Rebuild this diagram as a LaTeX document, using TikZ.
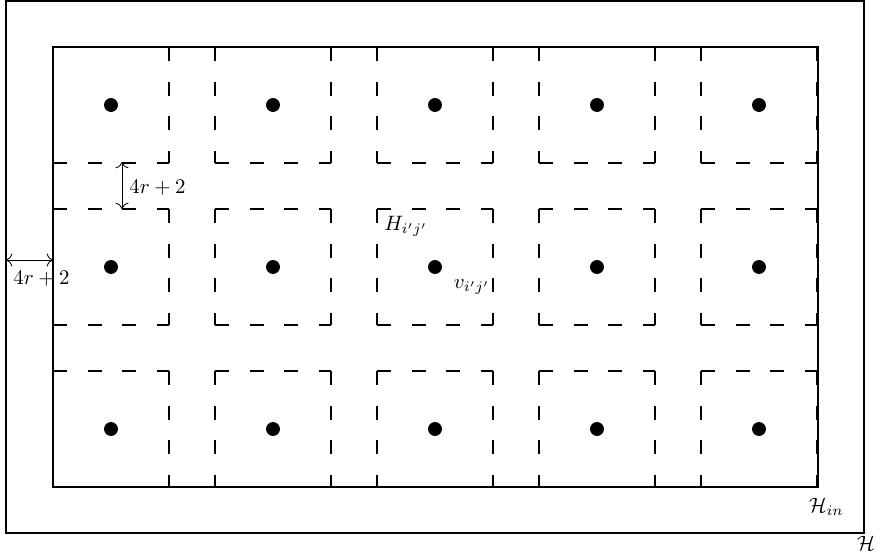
\documentclass[tikz,border=0pt]{standalone}
\usepackage{amsmath}
\usepackage{amssymb}
\usepackage{tikz}
\usetikzlibrary{arrows.meta,positioning,calc}

\begin{document}
\begin{tikzpicture}[
    x=0.48pt, y=-0.48pt,
    border/.style={draw=black, line width=0.95pt},
    cell/.style={draw=black, line width=1.15pt, dash pattern=on 6.7pt off 9.95pt},
    vertex/.style={circle, fill=black, inner sep=0pt, minimum size=6.7pt},
    dim/.style={{To[length=3pt]}-{To[length=3pt]}, line width=0.4pt}
]
    \useasboundingbox (0,0) rectangle (878,560);

    % outer graph and inner part
    \coordinate (out-nw) at (6,1);
    \coordinate (out-se) at (864,533);
    \coordinate (in-nw) at (53,47);
    \coordinate (in-se) at (818,487);
    \draw [border] (out-nw) rectangle (out-se);
    \draw [border] (in-nw) rectangle (in-se);

    % grid of squares H_ij with centre vertex v_ij
    \foreach \i in {0,...,4}
      \foreach \j in {0,...,2} {
        \pgfmathsetmacro{\xa}{53+162*\i}
        \pgfmathsetmacro{\ya}{47+162*\j}
        \coordinate (h\i\j-nw) at (\xa,\ya);
        \coordinate (h\i\j-ne) at (\xa+116,\ya);
        \coordinate (h\i\j-sw) at (\xa,\ya+116);
        \coordinate (h\i\j-se) at (\xa+116,\ya+116);
        \draw [cell] (h\i\j-nw) -- (h\i\j-ne) (h\i\j-sw) -- (h\i\j-se)
                     (h\i\j-nw) -- (h\i\j-sw) (h\i\j-ne) -- (h\i\j-se);
        \node [vertex] (v\i\j) at (\xa+58,\ya+58) {};
      }

    % distances
    \coordinate (d1a) at (122,162);
    \coordinate (d1b) at (122,209);
    \draw [dim] (d1a) -- (d1b) node [midway, right, yshift=-1pt] {$4r+2$};
    \coordinate (d2a) at (6,260);
    \coordinate (d2b) at (53,260);
    \draw [dim] (d2a) -- (d2b);
    \node [below right=2pt and 0pt of d2a] (l2) {$4r+2$};

    % labels
    \node [below right=0pt and 0pt of h21-nw] (lh) {$H_{i'j'}$};
    \node [below right=0pt and 3pt of v21] (lv) {$v_{i'j'}$};
    \node [below=2pt of in-se, xshift=4pt] (lin) {$\mathcal{H}_{in}$};
    \node [below=-2pt of out-se, xshift=1pt] (lout) {$\mathcal{H}$};
\end{tikzpicture}
\end{document}
